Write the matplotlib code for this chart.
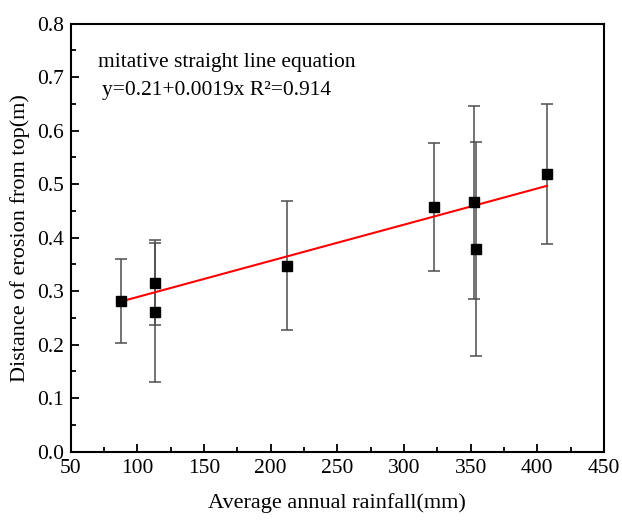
import numpy as np
import matplotlib.pyplot as plt
from matplotlib.ticker import MultipleLocator

plt.rcParams['font.family'] = ['Liberation Serif', 'DejaVu Serif']

# data
rainfall = [88, 113.5, 113.5, 212, 322.7, 352.5, 354, 407.3]
erosion = [0.282, 0.316, 0.261, 0.348, 0.457, 0.466, 0.378, 0.519]
err = [0.079, 0.079, 0.130, 0.120, 0.120, 0.180, 0.200, 0.130]

# fitted line end points
fit_x = [88, 407.3]
fit_y = [0.281, 0.497]

fig = plt.figure(figsize=(6.22, 5.2), dpi=100)
ax = fig.add_axes([0.1137, 0.1313, 0.8573, 0.8231])

ax.errorbar(rainfall, erosion, yerr=err, fmt='none', ecolor='#4d4d4d',
            elinewidth=1.1, capsize=4.6, capthick=1.1, zorder=2)
ax.plot(fit_x, fit_y, color='red', lw=1.5, zorder=3)
ax.plot(rainfall, erosion, 's', color='black', ms=6.8, zorder=4)

ax.set_xlim(50, 450)
ax.set_ylim(0, 0.8)
ax.xaxis.set_major_locator(MultipleLocator(50))
ax.xaxis.set_minor_locator(MultipleLocator(25))
ax.yaxis.set_major_locator(MultipleLocator(0.1))
ax.yaxis.set_minor_locator(MultipleLocator(0.05))
ax.yaxis.set_major_formatter(plt.FormatStrFormatter('%.1f'))

ax.tick_params(which='both', direction='in', labelsize=15.5, width=1.3)
ax.tick_params(which='major', length=6)
ax.tick_params(which='minor', length=3.5)
ax.tick_params(axis='x', pad=5)
ax.tick_params(axis='y', pad=5)
for s in ax.spines.values():
    s.set_linewidth(1.5)

ax.set_xlabel('Average annual rainfall(mm)', fontsize=16, labelpad=11)
ax.set_ylabel('Distance of erosion from top(m)', fontsize=16, labelpad=5)

ax.text(0.051, 0.91, 'mitative straight line equation', transform=ax.transAxes,
        fontsize=15.5, va='center')
ax.text(0.058, 0.845, 'y=0.21+0.0019x R\u00b2=0.914', transform=ax.transAxes,
        fontsize=15.5, va='center')

fig.savefig('out.png', dpi=100)
